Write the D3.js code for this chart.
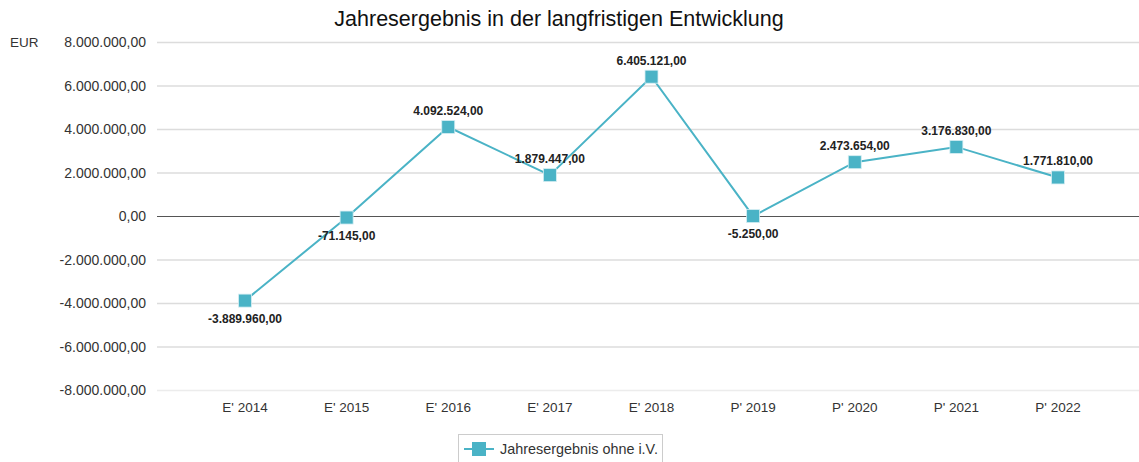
<!DOCTYPE html>
<html>
<head>
<meta charset="utf-8">
<script src="https://cdn.jsdelivr.net/npm/d3@7"></script>
<style>
  body { margin: 0; background: #fff; }
  svg { display: block; font-family: "Liberation Sans", Arial, sans-serif; }
</style>
</head>
<body>
<div id="chart"></div>
<script>
// data
var categories = ["E' 2014", "E' 2015", "E' 2016", "E' 2017", "E' 2018", "P' 2019", "P' 2020", "P' 2021", "P' 2022"];
var values = [-3889960, -71145, 4092524, 1879447, 6405121, -5250, 2473654, 3176830, 1771810];
var yTicks = [-8000000, -6000000, -4000000, -2000000, 0, 2000000, 4000000, 6000000, 8000000];
var seriesName = "Jahresergebnis ohne i.V.";
var title = "Jahresergebnis in der langfristigen Entwicklung";

var width = 1139, height = 462;
var lineColor = "#4ab3c6";

var svg = d3.select("#chart")
    .append("svg")
    .attr("width", width)
    .attr("height", height);

// german number format, plain hyphen as minus
var de = d3.formatLocale({ decimal: ",", thousands: ".", grouping: [3], currency: ["", " €"], minus: "-" });
var fmt = de.format(",.2f");

var x = d3.scalePoint()
    .domain(categories)
    .range([245, 1058]);

var y = d3.scaleLinear()
    .domain([-8000000, 8000000])
    .range([390, 42]);

// title
svg.append("text")
    .attr("x", 559)
    .attr("y", 26)
    .attr("text-anchor", "middle")
    .style("font-size", "21.5px")
    .style("fill", "#111")
    .text(title);

// unit
svg.append("text")
    .attr("x", 10)
    .attr("y", 47)
    .style("font-size", "13.5px")
    .style("fill", "#333")
    .text("EUR");

// gridlines + y labels
var yAxis = svg.append("g").attr("class", "y-axis");
yAxis.selectAll("line")
    .data(yTicks)
    .enter()
    .append("line")
    .attr("x1", 157)
    .attr("x2", width)
    .attr("y1", function(d) { return y(d) + 0.5 })
    .attr("y2", function(d) { return y(d) + 0.5 })
    .attr("stroke", function(d) { return d == 0 ? "#555" : (d == -8000000 ? "#ececec" : "#dcdcdc") })
    .attr("stroke-width", function(d) { return d == 0 ? 1.2 : 1.5 });

yAxis.selectAll("text")
    .data(yTicks)
    .enter()
    .append("text")
    .attr("x", 146)
    .attr("y", function(d) { return y(d) + 5 })
    .attr("text-anchor", "end")
    .style("font-size", "14px")
    .style("fill", "#333")
    .text(function(d) { return fmt(d) });

// x labels
svg.append("g")
    .selectAll("text")
    .data(categories)
    .enter()
    .append("text")
    .attr("x", function(d) { return x(d) })
    .attr("y", 412)
    .attr("text-anchor", "middle")
    .style("font-size", "13.5px")
    .style("fill", "#333")
    .text(function(d) { return d });

var points = categories.map(function(c, i) { return { cat: c, val: values[i] } });

// line
svg.append("path")
    .datum(points)
    .attr("d", d3.line()
        .x(function(d) { return x(d.cat) })
        .y(function(d) { return y(d.val) }))
    .attr("fill", "none")
    .attr("stroke", lineColor)
    .attr("stroke-width", 2);

// markers
var ms = 13;
svg.append("g")
    .selectAll("rect")
    .data(points)
    .enter()
    .append("rect")
    .attr("x", function(d) { return x(d.cat) - ms / 2 })
    .attr("y", function(d) { return y(d.val) - ms / 2 })
    .attr("width", ms)
    .attr("height", ms)
    .attr("fill", lineColor)
    .attr("stroke", "#d6eef3")
    .attr("stroke-width", 0.8);

// value labels
svg.append("g")
    .selectAll("text")
    .data(points)
    .enter()
    .append("text")
    .attr("x", function(d) { return x(d.cat) })
    .attr("y", function(d) { return d.val < 0 ? y(d.val) + 22 : y(d.val) - 12 })
    .attr("text-anchor", "middle")
    .style("font-size", "12px")
    .style("font-weight", "bold")
    .style("fill", "#222")
    .text(function(d) { return fmt(d.val) });

// legend
var legend = svg.append("g");
legend.append("rect")
    .attr("x", 458.5)
    .attr("y", 434.5)
    .attr("width", 204)
    .attr("height", 40)
    .attr("fill", "#fff")
    .attr("stroke", "#ccc");
legend.append("line")
    .attr("x1", 464)
    .attr("x2", 494)
    .attr("y1", 449)
    .attr("y2", 449)
    .attr("stroke", lineColor)
    .attr("stroke-width", 2);
legend.append("rect")
    .attr("x", 472)
    .attr("y", 442)
    .attr("width", 14)
    .attr("height", 14)
    .attr("fill", lineColor);
legend.append("text")
    .attr("x", 500)
    .attr("y", 454)
    .style("font-size", "14.4px")
    .style("fill", "#333")
    .text(seriesName);
</script>
</body>
</html>
